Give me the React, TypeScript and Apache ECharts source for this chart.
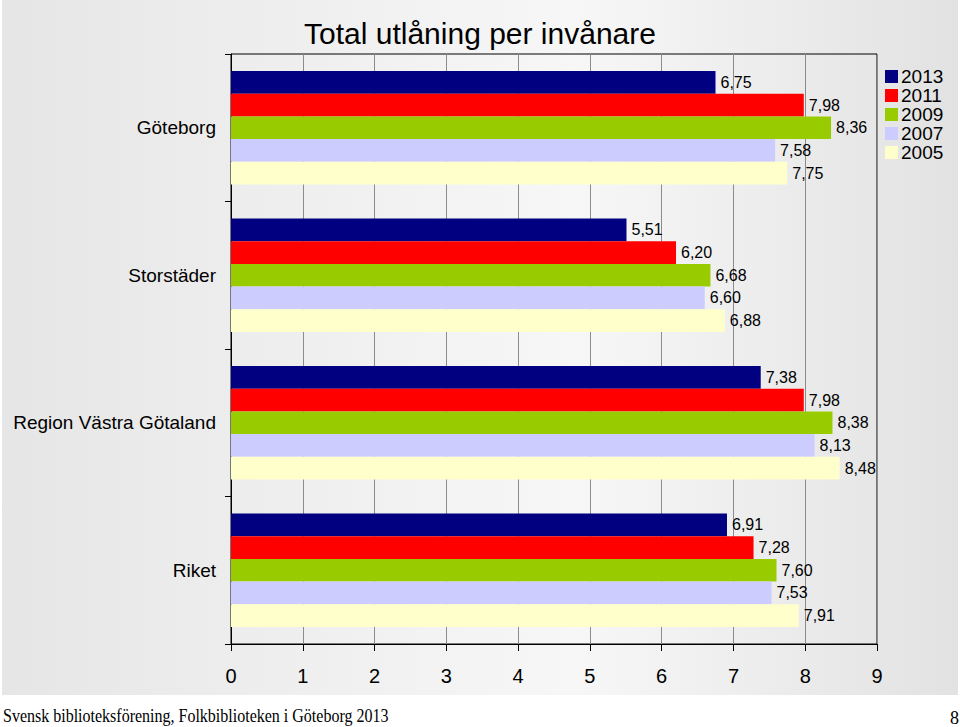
import React, { useEffect, useRef } from "react";
import * as echarts from "echarts";

const categories = ["Göteborg", "Storstäder", "Region Västra Götaland", "Riket"];
const years = ["2013", "2011", "2009", "2007", "2005"];
const colors = ["#000080", "#ff0000", "#99cc00", "#ccccff", "#ffffcc"];
const v2013 = [6.75, 5.51, 7.38, 6.91];
const v2011 = [7.98, 6.2, 7.98, 7.28];
const v2009 = [8.36, 6.68, 8.38, 7.6];
const v2007 = [7.58, 6.6, 8.13, 7.53];
const v2005 = [7.75, 6.88, 8.48, 7.91];
const seriesValues = [v2013, v2011, v2009, v2007, v2005];
const titleText = "Total utlåning per invånare";
const footerText = "Svensk biblioteksförening, Folkbiblioteken i Göteborg 2013";
const pageNumber = "8";

export default function App() {
  const ref = useRef<HTMLDivElement>(null);
  useEffect(() => {
    if (!ref.current) return;
    const chart = echarts.init(ref.current, null, { renderer: "svg" });
    const font = "Arial, 'Liberation Sans', sans-serif";
    const serif = "'Liberation Serif', 'DejaVu Serif', serif";
    chart.setOption({
      animation: false,
      backgroundColor: "#ffffff",
      title: {
        text: titleText,
        left: "center",
        top: 13,
        textStyle: { fontFamily: font, fontSize: 30, fontWeight: "normal", color: "#000" },
      },
      legend: {
        orient: "vertical",
        left: 885,
        top: 67,
        padding: 0,
        itemWidth: 13,
        itemHeight: 13,
        itemGap: 0,
        icon: "rect",
        data: years,
        textStyle: { fontFamily: font, fontSize: 19, color: "#000", lineHeight: 19, padding: [0, 0, 0, -2] },
      },
      graphic: [
        {
          type: "rect",
          z: -10,
          silent: true,
          shape: { x: 2, y: 0, width: 956, height: 695 },
          style: {
            fill: new echarts.graphic.LinearGradient(0, 0, 1, 0, [
              { offset: 0, color: "#e6e6e6" },
              { offset: 0.6, color: "#f7f7f7" },
              { offset: 1, color: "#e2e2e2" },
            ]),
          },
        },
        {
          type: "text",
          x: 3,
          y: 707,
          scaleX: 0.89,
          style: { text: footerText, fontFamily: serif, fontSize: 18, fill: "#000" },
        },
        {
          type: "text",
          x: 950,
          y: 709,
          style: { text: pageNumber, fontFamily: serif, fontSize: 18, fill: "#000" },
        },
      ],
      grid: {
        left: 231,
        right: 83,
        top: 54,
        bottom: 83,
        show: true,
        borderColor: "#000",
        borderWidth: 1,
        backgroundColor: "transparent",
        containLabel: false,
      },
      xAxis: {
        type: "value",
        min: 0,
        max: 9,
        interval: 1,
        axisLine: { show: true, lineStyle: { color: "#000", width: 1 } },
        axisTick: { show: true, length: 7, lineStyle: { color: "#000" } },
        splitLine: { show: true, lineStyle: { color: "#8c8c8c", width: 1 } },
        axisLabel: { fontFamily: font, fontSize: 20, color: "#000", margin: 22 },
      },
      yAxis: {
        type: "category",
        inverse: true,
        data: categories,
        axisLine: { show: true, lineStyle: { color: "#000", width: 1 } },
        axisTick: { show: true, length: 6, lineStyle: { color: "#000" } },
        axisLabel: { fontFamily: font, fontSize: 19, color: "#000", margin: 15 },
      },
      series: years.map((y, i) => ({
        name: y,
        type: "bar",
        data: seriesValues[i],
        barGap: "0%",
        barCategoryGap: "23%",
        itemStyle: { color: colors[i] },
        label: {
          show: true,
          position: "right",
          distance: 5,
          fontFamily: font,
          fontSize: 16,
          color: "#000",
          formatter: (p: any) => Number(p.value).toFixed(2).replace(".", ","),
        },
      })),
    });
    return () => chart.dispose();
  }, []);
  return (
    <div
      ref={ref}
      style={{ position: "fixed", left: 0, top: 0, width: 960, height: 727 }}
    />
  );
}
